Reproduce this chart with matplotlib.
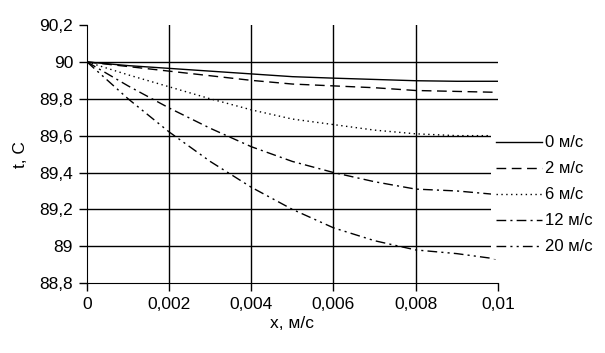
import matplotlib.pyplot as plt
import numpy as np
from matplotlib.ticker import FuncFormatter

plt.rcParams['font.family'] = ['Liberation Sans Narrow', 'Liberation Sans', 'DejaVu Sans']

x = [0, 0.001, 0.002, 0.003, 0.004, 0.005, 0.006, 0.007, 0.008, 0.009, 0.01]
t0 = [90, 89.98, 89.965, 89.95, 89.935, 89.92, 89.912, 89.905, 89.898, 89.895, 89.895]
t2 = [90, 89.975, 89.95, 89.925, 89.90, 89.88, 89.87, 89.86, 89.845, 89.84, 89.835]
t6 = [90, 89.93, 89.865, 89.80, 89.74, 89.69, 89.66, 89.63, 89.61, 89.60, 89.60]
t12 = [90, 89.87, 89.75, 89.64, 89.54, 89.46, 89.40, 89.35, 89.31, 89.30, 89.28]
t20 = [90, 89.80, 89.62, 89.46, 89.32, 89.20, 89.10, 89.03, 88.98, 88.96, 88.93]
labels = ['0 м/с', '2 м/с', '6 м/с', '12 м/с', '20 м/с']

fig = plt.figure(figsize=(6.05, 3.53), dpi=100)
ax = fig.add_axes([0.1438, 0.198, 0.679, 0.731])

xt = np.arange(0, 0.0101, 0.002)
yt = np.arange(88.8, 90.21, 0.2)

# grid lines drawn by hand, Excel-style (no line on the outer edges)
for v in xt[1:-1]:
    ax.axvline(v, color='black', lw=1, zorder=1)
for v in yt[1:-1]:
    ax.axhline(v, color='black', lw=1, zorder=1)

ax.plot(x, t0, color='black', lw=1, label=labels[0])
ax.plot(x, t2, color='black', lw=1, dashes=(7, 4), label=labels[1])
ax.plot(x, t6, color='black', lw=1, dashes=(1, 2.5), label=labels[2])
ax.plot(x, t12, color='black', lw=1, dashes=(7, 3, 1.5, 3), label=labels[3])
ax.plot(x, t20, color='black', lw=1, dashes=(7, 3, 1.5, 3, 1.5, 3), label=labels[4])

ax.set_xlim(0, 0.01)
ax.set_ylim(88.8, 90.2)
ax.set_xticks(xt)
ax.set_yticks(yt)

def comma(v, pos, nd):
    s = ('{:.%df}' % nd).format(v).rstrip('0').rstrip('.')
    return s.replace('.', ',')

ax.xaxis.set_major_formatter(FuncFormatter(lambda v, p: comma(v, p, 3)))
ax.yaxis.set_major_formatter(FuncFormatter(lambda v, p: comma(v, p, 1)))

for s in ['top', 'right']:
    ax.spines[s].set_visible(False)
ax.tick_params(direction='out', length=6, width=1, labelsize=12.5, pad=4)
ax.tick_params(axis='x', pad=4)

ax.set_xlabel('x, м/с', fontsize=12.5, labelpad=3, family=['Liberation Sans', 'DejaVu Sans'])
ax.set_ylabel('t, C', fontsize=12.5, labelpad=8, family=['Liberation Sans', 'DejaVu Sans'])

leg = ax.legend(loc='center left', bbox_to_anchor=(0.812, 0.448), bbox_transform=fig.transFigure,
                frameon=True, framealpha=1, edgecolor='white', facecolor='white',
                handlelength=2.75, handletextpad=0.15, labelspacing=0.66,
                borderpad=0.3, borderaxespad=0, prop={'family': ['Liberation Sans', 'DejaVu Sans'], 'size': 12})
leg.get_frame().set_linewidth(0)

fig.savefig('out.png', dpi=100)
